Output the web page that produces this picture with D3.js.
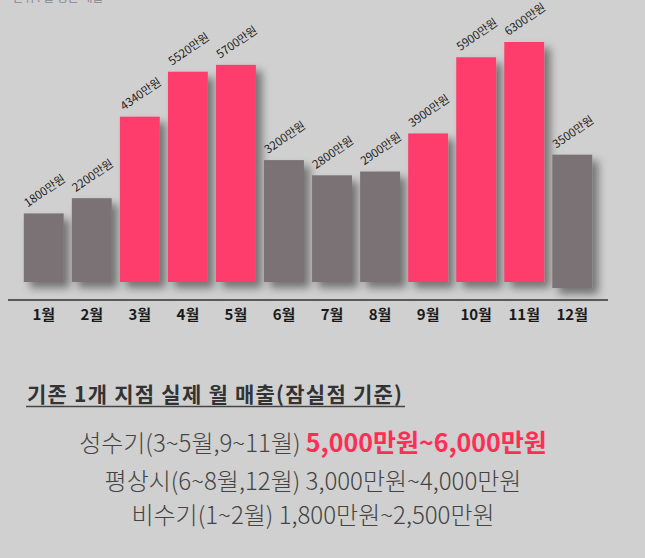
<!DOCTYPE html>
<html><head><meta charset="utf-8">
<script src="https://cdn.jsdelivr.net/npm/d3@7"></script>
<style>body{margin:0;background:#d0d0d0}svg{display:block}</style>
</head><body>
<svg id="chart" width="645" height="558"></svg>
<script>
const MONTHS = ["1월","2월","3월","4월","5월","6월","7월","8월","9월","10월","11월","12월"];
const SALES = [1800, 2200, 4340, 5520, 5700, 3200, 2800, 2900, 3900, 5900, 6300, 3500];
const PEAK = [false, false, true, true, true, false, false, false, true, true, true, false];
const LINES = [
  [["성수기(3~5월,9~11월) ", false], ["5,000만원~6,000만원", true]],
  [["평상시(6~8월,12월) 3,000만원~4,000만원", false]],
  [["비수기(1~2월) 1,800만원~2,500만원", false]]
];

const svg = d3.select("#chart");
const font = "'Noto Sans CJK KR', 'Noto Sans', sans-serif";

const defs = svg.append("defs");
const f = defs.append("filter").attr("id", "shadow")
  .attr("x", "-30%").attr("y", "-10%").attr("width", "170%").attr("height", "130%");
f.append("feDropShadow").attr("dx", 6).attr("dy", 6).attr("stdDeviation", 4)
  .attr("flood-color", "#000").attr("flood-opacity", 0.45);

const x = d3.scaleBand().domain(MONTHS).range([19, 597]).paddingInner(0.17).paddingOuter(0.1);
const y = d3.scaleLinear().domain([0, 6300]).range([282, 42]);

// note cut off at the very top, as in the original
svg.append("text").attr("x", 4).attr("y", 2).attr("font-family", font)
  .attr("font-size", 12).attr("fill", "#888").text("* 단위 : 월 평균 매출");

const g = svg.append("g");
g.selectAll("rect").data(SALES).join("rect")
  .attr("x", (d, i) => x(MONTHS[i]))
  .attr("y", (d, i) => y(d) + (i === 11 ? 6 : 0))
  .attr("width", x.bandwidth())
  .attr("height", d => y(0) - y(d))
  .attr("fill", (d, i) => PEAK[i] ? "#ff3d6c" : "#7a7274")
  .attr("filter", "url(#shadow)");

g.selectAll("text.val").data(SALES).join("text").attr("class", "val")
  .attr("transform", (d, i) => `translate(${x(MONTHS[i]) + 4},${y(d) + (i === 11 ? 6 : 0) - 6}) rotate(-35)`)
  .attr("font-family", font).attr("font-size", 11.5).attr("fill", "#222")
  .text(d => d + "만원");

const axis = svg.append("g").attr("transform", "translate(0,300)")
  .call(d3.axisBottom(x).tickSize(0).tickPadding(9));
axis.select(".domain").remove();
axis.append("line").attr("x1", 8).attr("x2", 608).attr("stroke", "#333").attr("stroke-width", 1.3);
axis.selectAll("text").attr("font-family", font).attr("font-size", 15)
  .attr("font-weight", "bold").attr("fill", "#1a1a1a");

svg.append("text").attr("x", 27).attr("y", 402).attr("font-family", font)
  .attr("font-size", 21).attr("font-weight", "bold").attr("fill", "#333")
  .attr("textLength", 375).text("기존 1개 지점 실제 월 매출(잠실점 기준)");
svg.append("line").attr("x1", 26).attr("x2", 405).attr("y1", 406.5).attr("y2", 406.5)
  .attr("stroke", "#444").attr("stroke-width", 1.5);

const ys = [452, 490, 524];
LINES.forEach((parts, i) => {
  const t = svg.append("text").attr("x", 313).attr("y", ys[i]).attr("text-anchor", "middle")
    .attr("font-family", font).attr("font-size", 24);
  parts.forEach(([s, hi]) => t.append("tspan").text(s)
    .attr("fill", hi ? "#ff2d55" : "#444").attr("font-weight", hi ? "bold" : 300)
    .attr("font-size", hi ? 25 : 24));
});
</script>
</body></html>
